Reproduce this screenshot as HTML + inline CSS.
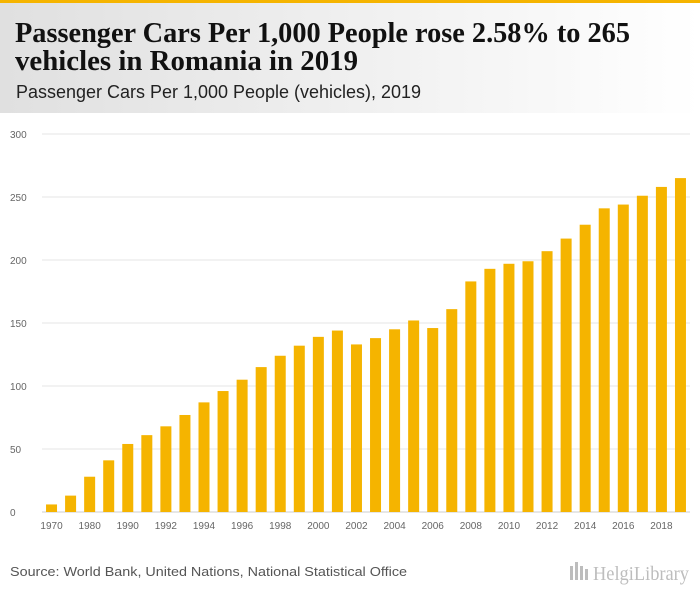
<!DOCTYPE html>
<html><head><meta charset="utf-8"><style>
body{margin:0;width:700px;height:596px;overflow:hidden;background:#fff;font-family:"Liberation Sans",sans-serif}
</style></head><body>
<svg width="700" height="596" xmlns="http://www.w3.org/2000/svg">
<defs><linearGradient id="hg" x1="0" x2="1" y1="0" y2="0"><stop offset="0" stop-color="#e0e0e0"/><stop offset="1" stop-color="#ffffff"/></linearGradient></defs>
<rect x="0" y="0" width="700" height="113" fill="url(#hg)"/>
<rect x="0" y="0" width="700" height="3" fill="#f5b400"/>
<text x="15" y="42" font-family="Liberation Serif,serif" font-weight="bold" font-size="28" fill="#111" textLength="615" lengthAdjust="spacingAndGlyphs">Passenger Cars Per 1,000 People rose 2.58% to 265</text>
<text x="15" y="70" font-family="Liberation Serif,serif" font-weight="bold" font-size="28" fill="#111" textLength="343" lengthAdjust="spacingAndGlyphs">vehicles in Romania in 2019</text>
<text x="16" y="98" font-size="18" fill="#222" textLength="405" lengthAdjust="spacingAndGlyphs">Passenger Cars Per 1,000 People (vehicles), 2019</text>
<g id="grid"></g><g id="bars"></g><g id="xlab"></g>
<text x="10" y="576" font-size="13" fill="#555" textLength="397" lengthAdjust="spacingAndGlyphs">Source: World Bank, United Nations, National Statistical Office</text>
<g opacity="0.55">
<rect x="570" y="566" width="3" height="14" fill="#888"/><rect x="575" y="562" width="3" height="18" fill="#888"/><rect x="580" y="566" width="3" height="14" fill="#888"/><rect x="585" y="569" width="3" height="11" fill="#888"/>
<text x="593" y="580" font-family="Liberation Serif,serif" font-size="20" fill="#888" textLength="96" lengthAdjust="spacingAndGlyphs">HelgiLibrary</text>
</g>
</svg>
<script>
const categories=["1970","1975","1980","1985","1990","1991","1992","1993","1994","1995","1996","1997","1998","1999","2000","2001","2002","2003","2004","2005","2006","2007","2008","2009","2010","2011","2012","2013","2014","2015","2016","2017","2018","2019"];
const values=[6,13,28,41,54,61,68,77,87,96,105,115,124,132,139,144,133,138,145,152,146,161,183,193,197,199,207,217,228,241,244,251,258,265];
const yTicks=[0,50,100,150,200,250,300];
const NS="http://www.w3.org/2000/svg";
const x0=42,x1=690,y0=512,yTop=134,yMax=300;
const step=(x1-x0)/categories.length,bw=11;
const ys=v=>y0-(v/yMax)*(y0-yTop);
const xs=i=>x0+step*i+step/2;
const grid=document.getElementById('grid'),bars=document.getElementById('bars'),xl=document.getElementById('xlab');
yTicks.forEach(t=>{
 const l=document.createElementNS(NS,'line');
 l.setAttribute('x1',x0);l.setAttribute('x2',x1);l.setAttribute('y1',ys(t));l.setAttribute('y2',ys(t));
 l.setAttribute('stroke',t===0?'#ccc':'#e6e6e6');l.setAttribute('stroke-width','1');
 
 
 grid.appendChild(l);
 const tx=document.createElementNS(NS,'text');
 tx.setAttribute('x',10);tx.setAttribute('y',ys(t)+4);tx.setAttribute('font-size','10');tx.setAttribute('fill','#666');
 tx.textContent=t;
 
 
 grid.appendChild(tx);
});
values.forEach((v,i)=>{
 const r=document.createElementNS(NS,'rect');
 r.setAttribute('x',xs(i)-bw/2);r.setAttribute('y',ys(v));r.setAttribute('width',bw);r.setAttribute('height',y0-ys(v));
 r.setAttribute('fill','#f5b400');
 
 
 bars.appendChild(r);
 if(i%2===0){
  const tx=document.createElementNS(NS,'text');
  tx.setAttribute('x',xs(i));tx.setAttribute('y',y0+17);tx.setAttribute('font-size','10');tx.setAttribute('fill','#666');tx.setAttribute('text-anchor','middle');
  tx.textContent=categories[i];
  
  
  xl.appendChild(tx);
 }
});
</script>
</body></html>
